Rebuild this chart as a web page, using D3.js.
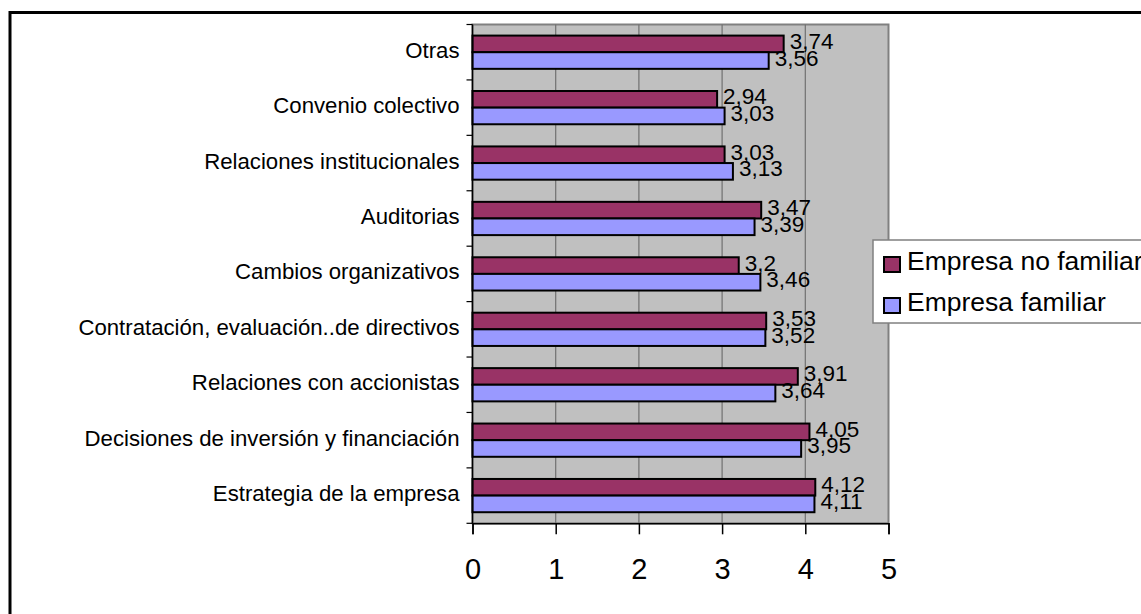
<!DOCTYPE html>
<html>
<head>
<meta charset="utf-8">
<script src="https://cdn.jsdelivr.net/npm/d3@7"></script>
<style>
  html, body { margin: 0; padding: 0; background: #fff; }
  svg { display: block; font-family: Arial, "Liberation Sans", sans-serif; }
</style>
</head>
<body>
<svg id="chart" width="1141" height="614"></svg>
<script>
// Categories listed top to bottom
const categories = [
  "Otras",
  "Convenio colectivo",
  "Relaciones institucionales",
  "Auditorias",
  "Cambios organizativos",
  "Contratación, evaluación..de directivos",
  "Relaciones con accionistas",
  "Decisiones de inversión y financiación",
  "Estrategia de la empresa"
];
const seriesNames = ["Empresa no familiar", "Empresa familiar"];
const noFamiliar = [3.74, 2.94, 3.03, 3.47, 3.2, 3.53, 3.91, 4.05, 4.12];
const familiar   = [3.56, 3.03, 3.13, 3.39, 3.46, 3.52, 3.64, 3.95, 4.11];
const xTicks = [0, 1, 2, 3, 4, 5];
const colors = ["#993366", "#9999FF"];

const svg = d3.select("#chart");

// Outer frame (only left and top edges fall inside the view)
svg.append("rect")
  .attr("x", 10).attr("y", 12.5)
  .attr("width", 1200).attr("height", 700)
  .attr("fill", "#fff").attr("stroke", "#000").attr("stroke-width", 3);

const plot = { left: 472.5, right: 888.5, top: 24.5, bottom: 523.3 };

const x = d3.scaleLinear().domain([0, 5]).range([plot.left, plot.right]);
const y = d3.scaleBand().domain(categories)
  .range([plot.top, plot.bottom]).paddingInner(0.4).paddingOuter(0.2);
const ySeries = d3.scaleBand().domain(seriesNames)
  .range([0, y.bandwidth()]);

// Plot area
svg.append("rect")
  .attr("x", plot.left).attr("y", plot.top)
  .attr("width", plot.right - plot.left).attr("height", plot.bottom - plot.top)
  .attr("fill", "#C0C0C0").attr("stroke", "#808080").attr("stroke-width", 2);

// Vertical gridlines
svg.append("g").selectAll("line")
  .data(xTicks.filter(t => t > 0 && t < 5))
  .join("line")
  .attr("x1", d => x(d)).attr("x2", d => x(d))
  .attr("y1", plot.top).attr("y2", plot.bottom)
  .attr("stroke", "#707070").attr("stroke-width", 1.2);

// Bars
const rows = categories.map((c, i) => ({ cat: c, vals: [noFamiliar[i], familiar[i]] }));
const groups = svg.append("g").selectAll("g")
  .data(rows).join("g")
  .attr("transform", d => `translate(0,${y(d.cat)})`);

groups.selectAll("rect")
  .data(d => d.vals.map((v, k) => ({ v, k })))
  .join("rect")
  .attr("x", x(0))
  .attr("y", d => ySeries(seriesNames[d.k]))
  .attr("width", d => x(d.v) - x(0))
  .attr("height", ySeries.bandwidth())
  .attr("fill", d => colors[d.k])
  .attr("stroke", "#000").attr("stroke-width", 2);

// Value labels
groups.selectAll("text")
  .data(d => d.vals.map((v, k) => ({ v, k })))
  .join("text")
  .attr("x", d => x(d.v) + 6)
  .attr("y", d => ySeries(seriesNames[d.k]) + ySeries.bandwidth() / 2 + 5)
  .attr("font-size", 22.5)
  .attr("fill", "#000")
  .text(d => String(d.v).replace(".", ","));

// X axis
const xAxis = d3.axisBottom(x).tickValues(xTicks).tickSize(11).tickPadding(24)
  .tickFormat(d3.format("d"));
const gx = svg.append("g").attr("transform", `translate(0,${plot.bottom})`).call(xAxis);
gx.select(".domain").attr("stroke", "#000").attr("stroke-width", 1.5);
gx.selectAll(".tick line").attr("stroke", "#000").attr("stroke-width", 1.5);
gx.selectAll(".tick text").attr("font-size", 29).attr("font-family", "Arial, 'Liberation Sans', sans-serif")
  .attr("fill", "#000");

// Y axis line and boundary ticks
svg.append("line")
  .attr("x1", plot.left).attr("x2", plot.left)
  .attr("y1", plot.top).attr("y2", plot.bottom)
  .attr("stroke", "#000").attr("stroke-width", 1.5);
const boundaries = categories.map(c => y(c) - y.step() * 0.2).concat([plot.bottom]);
svg.append("g").selectAll("line")
  .data(boundaries).join("line")
  .attr("x1", plot.left - 6).attr("x2", plot.left)
  .attr("y1", d => d).attr("y2", d => d)
  .attr("stroke", "#000").attr("stroke-width", 1.2);

// Category labels
svg.append("g").selectAll("text")
  .data(categories).join("text")
  .attr("x", plot.left - 13)
  .attr("y", d => y(d) + y.bandwidth() / 2 + 5.5)
  .attr("text-anchor", "end")
  .attr("font-size", 22.2)
  .attr("fill", "#000")
  .text(d => d);

// Legend
const legend = svg.append("g");
legend.append("rect")
  .attr("x", 873).attr("y", 240).attr("width", 300).attr("height", 83)
  .attr("fill", "#fff").attr("stroke", "#808080").attr("stroke-width", 1.5);
const li = legend.selectAll("g.item").data(seriesNames).join("g")
  .attr("class", "item")
  .attr("transform", (d, i) => `translate(883,${256 + i * 41})`);
li.append("rect")
  .attr("x", 1).attr("y", 1).attr("width", 16).attr("height", 15)
  .attr("fill", (d, i) => colors[i]).attr("stroke", "#000").attr("stroke-width", 2);
li.append("text")
  .attr("x", 24).attr("y", 14)
  .attr("font-size", 26.5)
  .attr("fill", "#000")
  .text(d => d);
</script>
</body>
</html>
